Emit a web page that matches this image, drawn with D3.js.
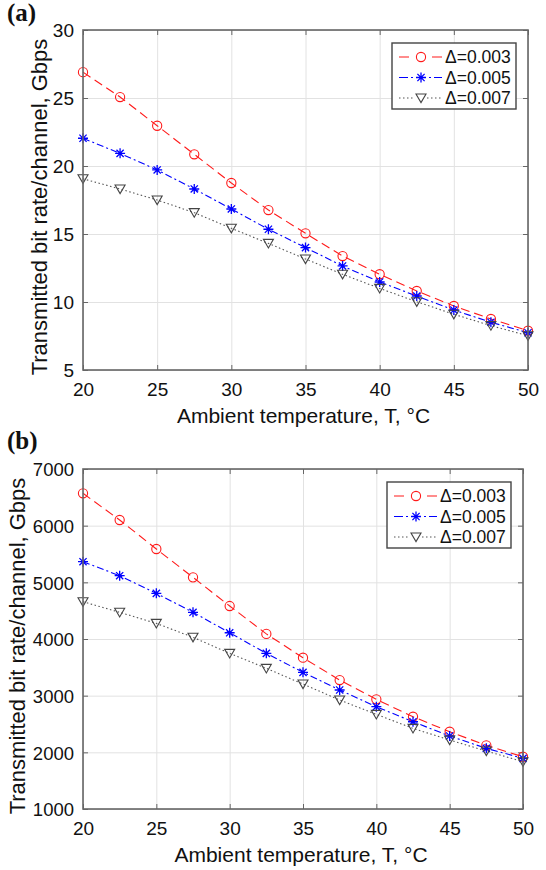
<!DOCTYPE html>
<html>
<head>
<meta charset="utf-8">
<script src="https://cdn.jsdelivr.net/npm/d3@7"></script>
<style>
	html, body { margin: 0; padding: 0; background: #fff; }
	svg { display: block; font-family: "Liberation Sans", Arial, sans-serif; }
	.tick text { font-size: 19px; fill: #111; }
	.grid line { stroke: #e2e2e2; stroke-width: 1; }
	.grid .domain { display: none; }
	.inner .domain { display: none; }
	.inner line { stroke: #666; stroke-width: 1; }
</style>
</head>
<body>
<div class="container"></div>
<script>
// temperatures on x axis
const temps = [20, 22.5, 25, 27.5, 30, 32.5, 35, 37.5, 40, 42.5, 45, 47.5, 50];
const seriesNames = ["Δ=0.003", "Δ=0.005", "Δ=0.007"];

const xTicks = [20, 25, 30, 35, 40, 45, 50];
const yTicksA = [5, 10, 15, 20, 25, 30];
const yTicksB = [1000, 2000, 3000, 4000, 5000, 6000, 7000];

// panel (a) bit rate, Gbps
const rateA003 = [26.9, 25.07, 22.96, 20.86, 18.75, 16.76, 15.05, 13.38, 12.04, 10.81, 9.71, 8.75, 7.89];
const rateA005 = [22.04, 20.93, 19.71, 18.31, 16.84, 15.35, 14.0, 12.65, 11.47, 10.44, 9.41, 8.51, 7.74];
const rateA007 = [19.06, 18.31, 17.5, 16.57, 15.42, 14.31, 13.16, 12.04, 11.0, 10.02, 9.1, 8.26, 7.52];

// panel (b) bit rate, Gbps
const rateB003 = [6571, 6100, 5588, 5088, 4582, 4090, 3670, 3276, 2935, 2628, 2364, 2123, 1922];
const rateB005 = [5364, 5117, 4806, 4471, 4110, 3747, 3412, 3100, 2805, 2540, 2288, 2070, 1894];
const rateB007 = [4658, 4471, 4276, 4030, 3747, 3482, 3205, 2923, 2670, 2423, 2217, 2023, 1835];

const styles = [
	{ color: "#ff1a1a", dash: "9,5", legendDash: "10,23,10", marker: "circle" },
	{ color: "#0000ff", dash: "7,3,2,3", legendDash: "9,3,2,16,2,3,9", marker: "star" },
	{ color: "#555555", dash: "1.5,2.5", legendDash: "1.5,2.5", marker: "tri" }
];

const svg = d3.select(".container")
	.append("svg")
		.attr("width", 546)
		.attr("height", 870);

function drawMarker(g, kind, color) {
	if (kind === "circle") {
		g.append("circle").attr("r", 4.6)
			.attr("fill", "none").attr("stroke", color).attr("stroke-width", 1.1);
	} else if (kind === "star") {
		g.append("path")
			.attr("d", "M-5,0L5,0M0,-5L0,5M-3.6,-3.6L3.6,3.6M-3.6,3.6L3.6,-3.6")
			.attr("stroke", color).attr("stroke-width", 1.3);
	} else {
		g.append("path")
			.attr("d", "M-5,-4L5,-4L0,4.6Z")
			.attr("fill", "none").attr("stroke", "#444").attr("stroke-width", 1.1);
	}
}

function drawPanel(cfg) {
	const w = cfg.right - cfg.left;
	const h = cfg.bottom - cfg.top;

	const x = d3.scaleLinear().domain([20, 50]).range([0, w]);
	const y = d3.scaleLinear().domain(cfg.yDomain).range([h, 0]);

	const g = svg.append("g").attr("transform", `translate(${cfg.left},${cfg.top})`);

	// grid
	g.append("g").attr("class", "grid")
		.attr("transform", `translate(0,${h})`)
		.call(d3.axisBottom(x).tickValues(xTicks).tickSize(-h).tickFormat(""));
	g.append("g").attr("class", "grid")
		.call(d3.axisLeft(y).tickValues(cfg.yTicks).tickSize(-w).tickFormat(""));

	// inner ticks on all four sides
	g.append("g").attr("class", "inner")
		.attr("transform", `translate(0,${h})`)
		.call(d3.axisBottom(x).tickValues(xTicks).tickSize(-5).tickFormat(""));
	g.append("g").attr("class", "inner")
		.call(d3.axisTop(x).tickValues(xTicks).tickSize(-5).tickFormat(""));
	g.append("g").attr("class", "inner")
		.call(d3.axisLeft(y).tickValues(cfg.yTicks).tickSize(-5).tickFormat(""));
	g.append("g").attr("class", "inner")
		.attr("transform", `translate(${w},0)`)
		.call(d3.axisRight(y).tickValues(cfg.yTicks).tickSize(-5).tickFormat(""));

	// tick labels
	const xAx = g.append("g")
		.attr("transform", `translate(0,${h})`)
		.call(d3.axisBottom(x).tickValues(xTicks).tickSize(0).tickFormat(d3.format("d")));
	xAx.select(".domain").remove();
	xAx.selectAll("text").attr("dy", null).attr("y", 26);

	const yAx = g.append("g")
		.call(d3.axisLeft(y).tickValues(cfg.yTicks).tickSize(0).tickPadding(9).tickFormat(d3.format("d")));
	yAx.select(".domain").remove();
	yAx.selectAll("text").attr("dy", "0.36em").style("font-size", cfg.yTickSize + "px");

	// series
	const line = d3.line().x((d, i) => x(temps[i])).y(d => y(d));

	cfg.series.forEach((values, k) => {
		const st = styles[k];
		g.append("path")
			.datum(values)
			.attr("d", line)
			.attr("fill", "none")
			.attr("stroke", st.color)
			.attr("stroke-width", 1.1)
			.attr("stroke-dasharray", st.dash);
	});
	cfg.series.forEach((values, k) => {
		const st = styles[k];
		g.selectAll(null)
			.data(values)
			.enter()
			.append("g")
				.attr("transform", (d, i) => `translate(${x(temps[i])},${y(d)})`)
				.each(function () { drawMarker(d3.select(this), st.marker, st.color); });
	});

	// axes box
	g.append("rect")
		.attr("width", w).attr("height", h)
		.attr("fill", "none").attr("stroke", "#666").attr("stroke-width", 1.6);

	// legend
	const lw = 124, lh = 66;
	const leg = g.append("g").attr("transform", `translate(${w - 12 - lw},13)`);
	leg.append("rect")
		.attr("width", lw).attr("height", lh)
		.attr("fill", "#fff").attr("stroke", "#444").attr("stroke-width", 1.4);
	seriesNames.forEach((name, k) => {
		const st = styles[k];
		const row = leg.append("g").attr("transform", `translate(0,${14 + k * 20.5})`);
		row.append("line")
			.attr("x1", 7).attr("x2", 50)
			.attr("stroke", st.color).attr("stroke-width", 1.1)
			.attr("stroke-dasharray", st.legendDash);
		const m = row.append("g").attr("transform", "translate(29,0)");
		m.append("rect").attr("x", -6).attr("y", -6).attr("width", 12).attr("height", 12).attr("fill", "#fff");
		drawMarker(m, st.marker, st.color);
		row.append("text")
			.attr("x", 53).attr("y", 6)
			.attr("font-size", 17.5)
			.attr("fill", "#111")
			.text(name);
	});

	// axis titles
	g.append("text")
		.attr("x", w / 2 - 2).attr("y", h + 53)
		.attr("text-anchor", "middle")
		.attr("font-size", 21)
		.attr("fill", "#111")
		.text("Ambient temperature, T, °C");

	g.append("text")
		.attr("transform", `translate(${cfg.titleX - cfg.left},${h / 2 + 7}) rotate(-90)`)
		.attr("text-anchor", "middle")
		.attr("font-size", 22)
		.attr("fill", "#111")
		.text("Transmitted bit rate/channel, Gbps");

	// panel tag
	svg.append("text")
		.attr("x", 7).attr("y", cfg.tagY)
		.attr("font-family", "'Liberation Serif', 'Times New Roman', serif")
		.attr("font-weight", "bold")
		.attr("font-size", 25)
		.attr("fill", "#111")
		.text(cfg.tag);
}

drawPanel({
	left: 83, right: 528, top: 30, bottom: 370,
	yDomain: [5, 30], yTicks: yTicksA, yTickSize: 19, titleX: 47,
	series: [rateA003, rateA005, rateA007],
	tag: "(a)", tagY: 21
});

drawPanel({
	left: 83, right: 523, top: 469, bottom: 809,
	yDomain: [1000, 7000], yTicks: yTicksB, yTickSize: 18.5, titleX: 25,
	series: [rateB003, rateB005, rateB007],
	tag: "(b)", tagY: 449
});
</script>
</body>
</html>
